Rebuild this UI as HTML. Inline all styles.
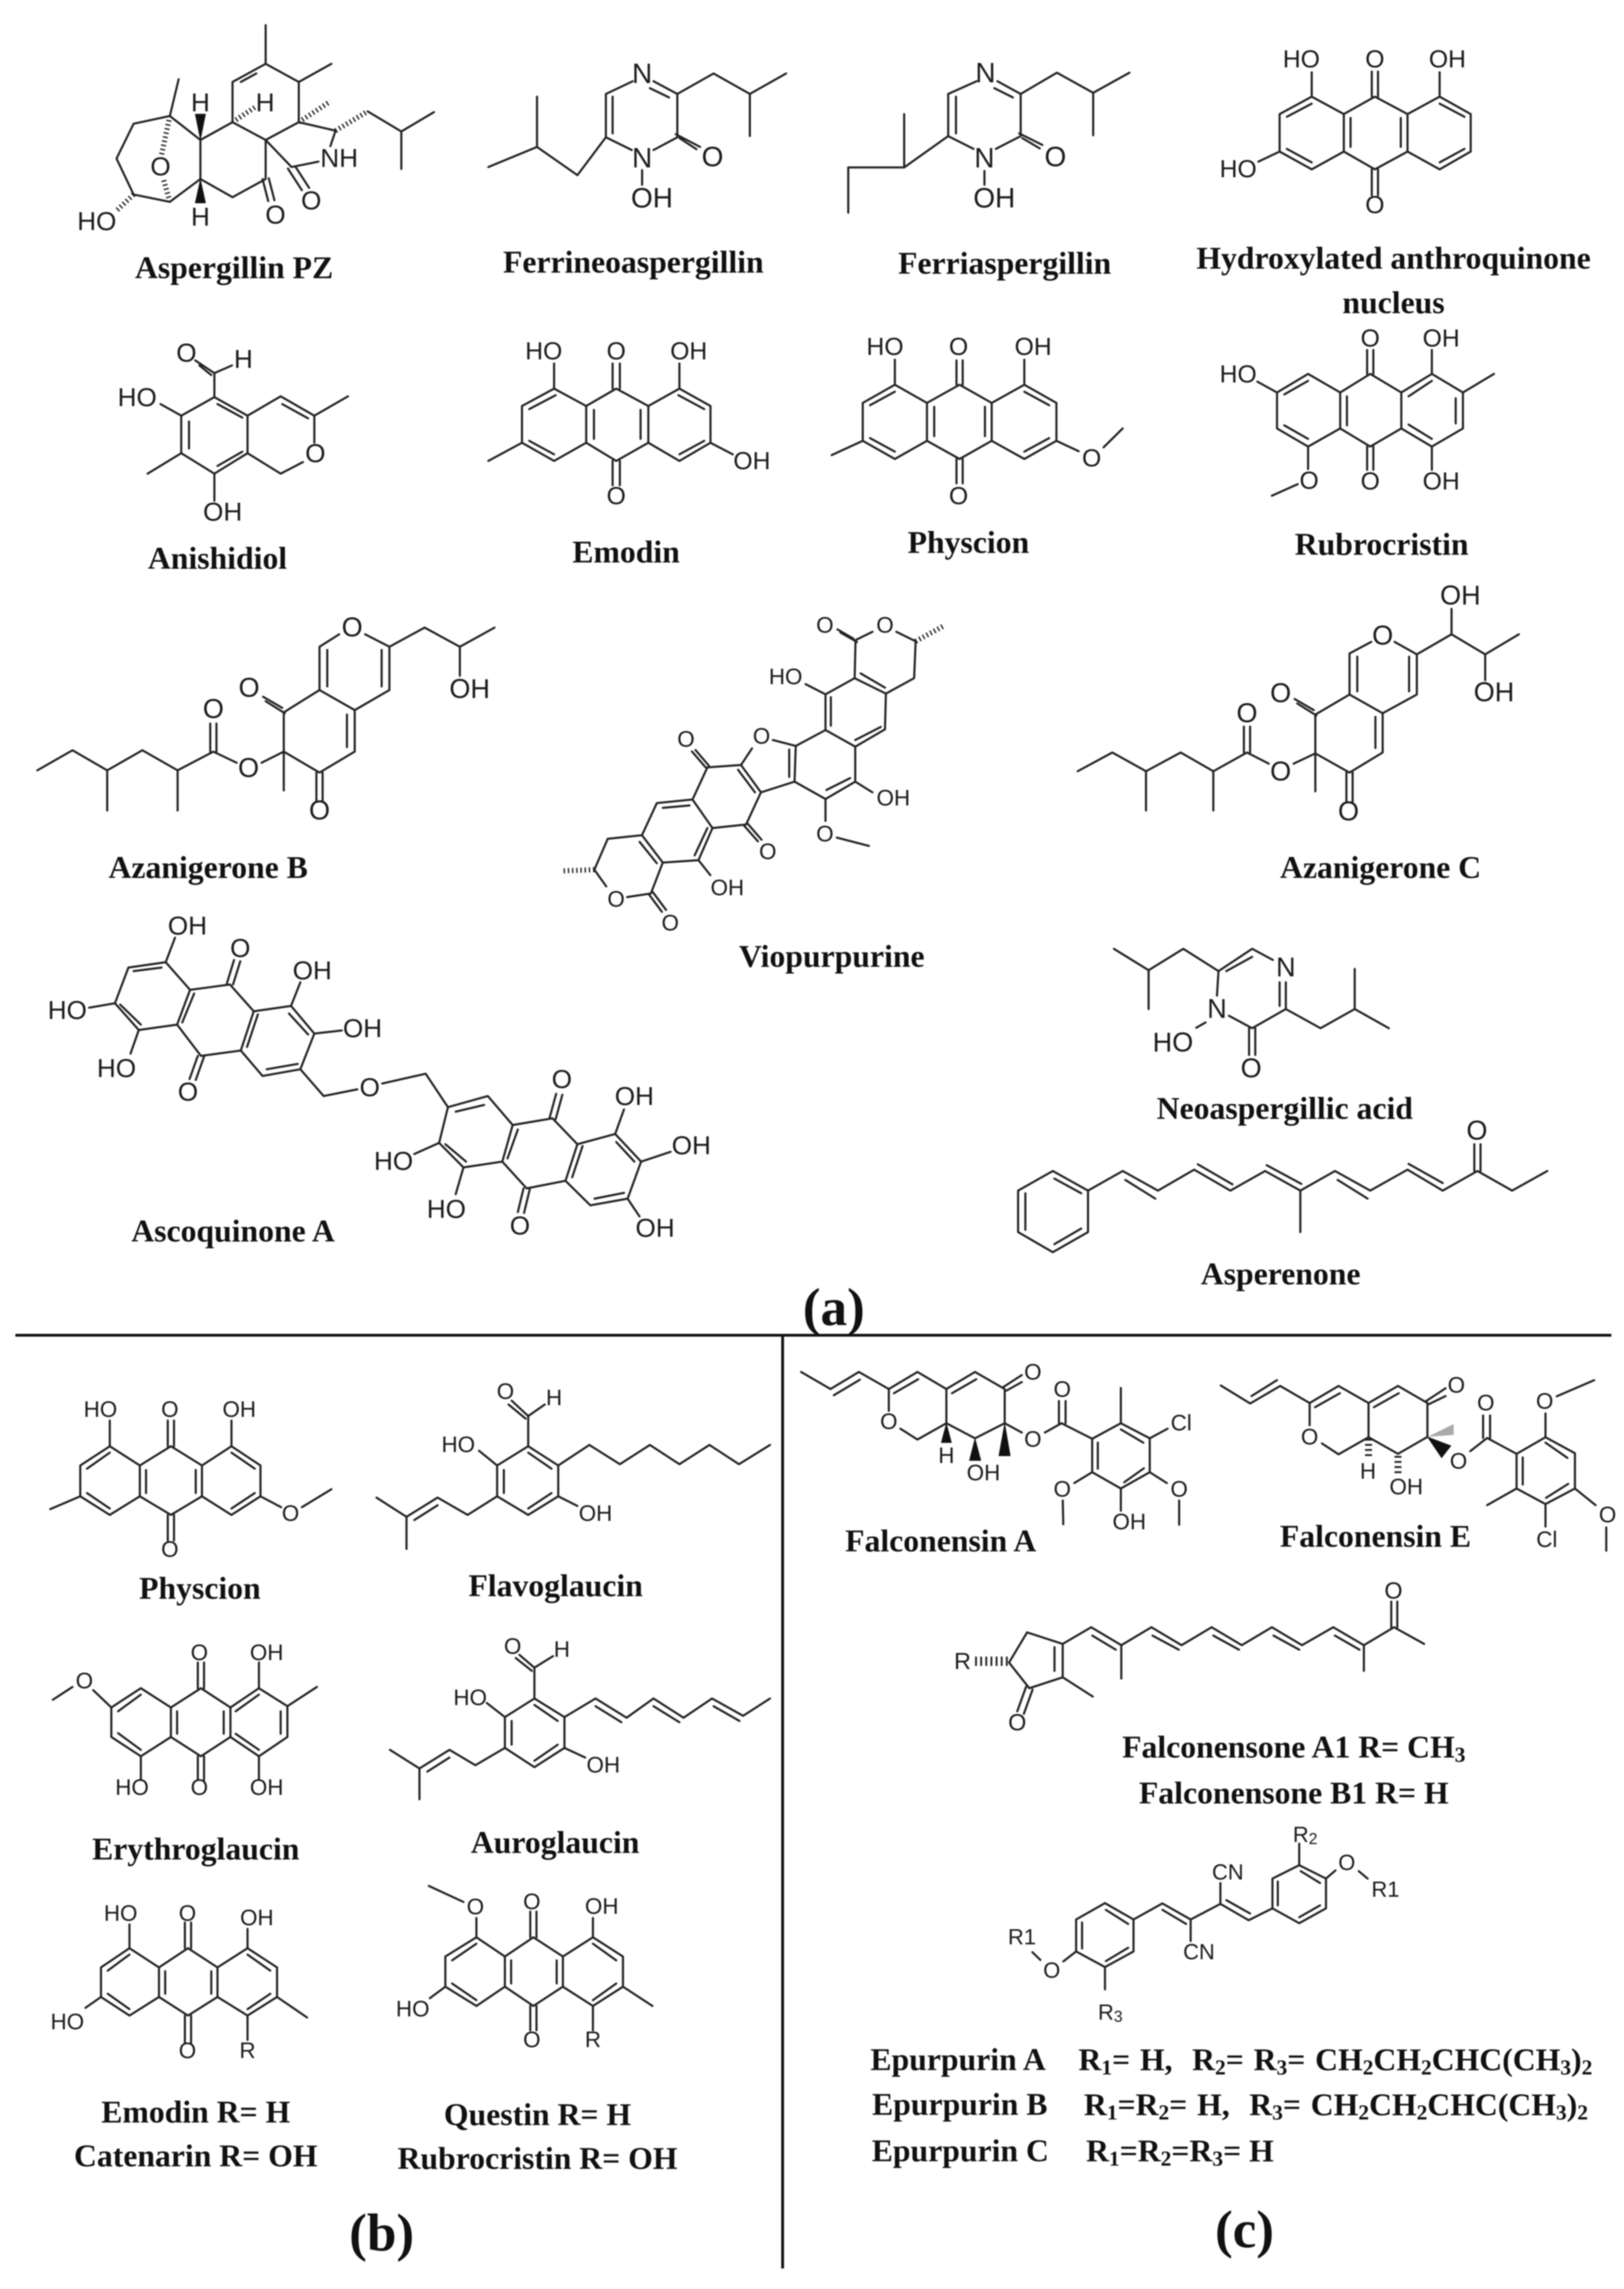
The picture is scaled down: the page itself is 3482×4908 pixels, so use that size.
<!DOCTYPE html>
<html><head><meta charset="utf-8"><style>
html,body{margin:0;padding:0;background:#fff}
svg{display:block;filter:blur(1.3px)}
text{font-family:"Liberation Sans",sans-serif;fill:#1c1c1c;text-anchor:middle;dominant-baseline:central;transform-box:fill-box;transform-origin:center}
.c{font-family:"Liberation Serif",serif;font-weight:bold;font-size:68px;fill:#111}
.L{font-family:"Liberation Serif",serif;font-weight:bold;font-size:114px;fill:#111}
path{fill:none;stroke:#222;stroke-width:4.5px;vector-effect:non-scaling-stroke;stroke-linecap:round;stroke-linejoin:round}
path.h{stroke-width:11px;stroke-dasharray:3 6;stroke-linecap:butt}
path.w{fill:#111;stroke:#111;stroke-width:1px}
.A text{transform:scale(.9006,1.2061)}
.C text{transform:scale(.9006,1.0454)}
.E text{transform:scale(.9006,.7266)}
.F text{transform:scale(.8517,.7266)}
.G text{transform:scale(1.568,1.96)}
.H text{transform:scale(1.568,3.136)}
.I text{transform:scale(1.823,3)}
.J text{transform:scale(1.742,3)}
</style></head><body>
<svg xmlns="http://www.w3.org/2000/svg" width="3482" height="4908" viewBox="0 0 3482 4908">
<rect width="3482" height="4908" fill="#fff"/>

<!-- crop 1 -->
<g class="A" transform="translate(0 0) scale(1.1103 .8291)">
<path d="M513 65L513 165M513 165L449 212L449 316M495 190L465 212M513 165L577 212L577 316M577 212L640 165M449 316L513 362L577 316M449 316L387 362L387 463L449 510L513 463L513 362M387 362L328 300L258 320L225 410L258 503L328 522L387 463M328 300L345 205M577 316L648 338L638 378M513 362L563 432L615 418M556 436L583 492M570 430L597 486M507 463L518 520M519 461L530 518M710 288L775 340L838 290M775 340L775 437"/>
<path class="h" d="M258 503L225 545M328 300L312 400M328 522L316 465M449 316L495 275M577 316L638 262M648 338L710 288"/>
<path class="w" d="M387 362L377 295L397 295ZM387 463L377 525L397 525Z"/>
<g font-size="56"><text x="187" y="572">HO</text><text x="310" y="430">O</text><text x="387" y="265">H</text><text x="387" y="560">H</text><text x="512" y="265">H</text><text x="655" y="408">NH</text><text x="601" y="518">O</text><text x="532" y="555">O</text></g>
<text class="c" x="452" y="692">Aspergillin PZ</text>

<path d="M1222 210L1170 243L1170 355L1220 388M1183 250L1183 345M1262 388L1308 355L1308 243L1262 210M1255 228L1292 252M1305 347L1352 380M1312 357L1345 386M1240 440L1240 478M1308 243L1378 190L1448 243L1518 190M1448 243L1448 352M1170 355L1115 453L1037 380L943 432M1037 380L1037 250"/>
<g font-size="60"><text x="1240" y="190">N</text><text x="1240" y="408">N</text><text x="1376" y="405">O</text><text x="1259" y="512">OH</text></g>
<text class="c" x="1223" y="677">Ferrineoaspergillin</text>

<path d="M414 1027L478 1075L478 1172L414 1225L350 1172L350 1075ZM420 1045L468 1080M365 1090L365 1160M420 1205L468 1168M478 1075L542 1025L607 1075L607 1145M545 1045L595 1082M585 1195L542 1225L478 1172M607 1075L672 1025M414 1027L414 965L377 932M408 970L385 945M414 965L448 945M310 1045L350 1075M350 1172L285 1225M414 1225L414 1295"/>
<g font-size="56"><text x="265" y="1027">HO</text><text x="360" y="912">O</text><text x="470" y="928">H</text><text x="609" y="1172">O</text><text x="430" y="1323">OH</text></g>
<text class="c" x="420" y="1443">Anishidiol</text>

<path d="M1070 1005L1132 1050L1132 1145L1070 1192L1008 1145L1008 1050ZM1132 1050L1190 1005L1252 1050L1252 1145L1190 1192L1132 1145M1252 1050L1312 1005L1372 1050L1372 1145L1312 1192L1252 1145M1073 1022L1022 1058M1022 1140L1070 1175M1147 1060L1147 1135M1237 1060L1237 1135M1310 1022L1360 1058M1312 1175L1360 1140M1183 1005L1183 940M1197 1005L1197 940M1183 1192L1183 1255M1197 1192L1197 1255M1070 1005L1070 940M1312 1005L1312 940M1008 1145L943 1192M1372 1145L1415 1175"/>
<g font-size="53"><text x="1050" y="908">HO</text><text x="1190" y="908">O</text><text x="1330" y="908">OH</text><text x="1190" y="1283">O</text><text x="1452" y="1192">OH</text></g>
<text class="c" x="1209" y="1427">Emodin</text>
</g>

<!-- crop 2 -->
<g class="A" transform="translate(1741 0) scale(1.1103 .8291)">
<path d="M318 210L263 243L263 352L312 385M278 250L278 345M355 385L403 352L403 243L358 210M352 228L388 252M400 345L445 375M406 357L440 384M333 442L333 478M403 243L473 188L543 240L613 188M543 240L543 350M263 352L178 433L70 433L70 550M178 433L178 295"/>
<g font-size="60"><text x="335" y="188">N</text><text x="333" y="408">N</text><text x="470" y="405">O</text><text x="352" y="512">OH</text></g>
<text class="c" x="372" y="680">Ferriaspergillin</text>

<path d="M965 250L1027 295L1027 392L965 438L903 392L903 295ZM1027 295L1087 250L1150 295L1150 392L1087 438L1027 392M1150 295L1212 250L1272 295L1272 392L1212 438L1150 392M965 268L917 302M917 385L965 420M1040 305L1040 380M1137 305L1137 380M1212 268L1260 302M1260 385L1212 420M1081 250L1081 185M1093 250L1093 185M1081 438L1081 505M1093 438L1093 505M965 250L965 187M1212 250L1212 187M903 392L862 418"/>
<g font-size="53"><text x="945" y="153">HO</text><text x="1087" y="153">O</text><text x="1227" y="153">OH</text><text x="823" y="437">HO</text><text x="1087" y="530">O</text></g>
<text class="c" x="1123" y="667">Hydroxylated anthroquinone</text>
<text class="c" x="1123" y="782">nucleus</text>

<path d="M160 995L222 1042L222 1140L160 1187L98 1140L98 1042ZM222 1042L285 995L347 1042L347 1140L285 1187L222 1140M347 1042L410 995L472 1042L472 1140L410 1187L347 1140M160 1013L112 1048M112 1133L160 1168M236 1052L236 1128M334 1052L334 1128M410 1013L458 1048M410 1168L458 1133M279 995L279 932M291 995L291 932M279 1187L279 1250M291 1187L291 1250M160 995L160 930M410 995L410 930M98 1140L38 1177M472 1140L515 1167M563 1157L600 1108"/>
<g font-size="53"><text x="141" y="897">HO</text><text x="283" y="897">O</text><text x="427" y="897">OH</text><text x="283" y="1283">O</text><text x="540" y="1185">O</text></g>
<text class="c" x="302" y="1402">Physcion</text>

<path d="M958 967L1020 1015L1020 1108L958 1155L898 1108L898 1015ZM1020 1015L1078 967L1138 1015L1138 1108L1078 1155L1020 1108M1138 1015L1197 967L1257 1015L1257 1108L1197 1155L1138 1108M958 985L912 1020M912 1100L958 1135M1033 1025L1033 1100M1152 1025L1197 985M1152 1098L1197 1135M1243 1030L1243 1095M1072 967L1072 905M1084 967L1084 905M1072 1155L1072 1215M1084 1155L1084 1215M1197 967L1197 905M1197 1155L1197 1215M898 1015L860 987M1257 1015L1317 967M958 1155L958 1213M938 1252L888 1282"/>
<g font-size="53"><text x="1078" y="875">O</text><text x="1215" y="875">OH</text><text x="823" y="968">HO</text><text x="960" y="1243">O</text><text x="1078" y="1245">O</text><text x="1215" y="1245">OH</text></g>
<text class="c" x="1100" y="1407">Rubrocristin</text>
</g>

<!-- crop 3 -->
<g class="C" transform="translate(0 1250) scale(1.1103 .9566)">
<path d="M655 115L617 143L617 240L548 290L548 378L617 425L685 378L685 285L617 240M685 285L752 240L752 143L705 115M632 150L632 232M737 150L737 232M670 295L670 368M752 143L820 100L888 143L955 100M888 143L888 208M545 280L508 255M550 292L513 265M611 425L611 490M623 425L623 490M548 378L548 465M548 378L505 403M457 403L412 378M406 378L406 315M418 378L418 315M412 378L343 420L275 375L207 420L140 375L72 420M343 420L343 510M207 420L207 510"/>
<g font-size="58"><text x="680" y="100">O</text><text x="907" y="238">OH</text><text x="481" y="235">O</text><text x="412" y="283">O</text><text x="480" y="415">O</text><text x="617" y="510">O</text></g>
<text class="c" x="402" y="637">Azanigerone B</text>

<path d="M320 850L248 862L222 942L268 1002L342 990L367 912ZM367 912L444 900L490 960L465 1048L388 1060L342 990M490 960L562 948L607 1010L580 1090L507 1105L465 1048M312 862L258 870M232 945L272 990M375 920L352 985M498 967L477 1040M558 965L595 1012M575 1078L515 1090M438 898L452 845M450 900L464 848M382 1060L366 1112M394 1062L378 1114M320 850L338 795M222 942L172 952M268 1002L252 1055M562 948L580 895M607 1010L660 1003M580 1090L625 1150L690 1135M738 1122L822 1100L865 1175"/>
<path d="M865 1175L942 1150L990 1215L970 1297L895 1310L848 1255ZM990 1215L1067 1200L1115 1258L1092 1340L1017 1357L970 1297M1115 1258L1188 1235L1238 1297L1212 1380L1140 1395L1092 1340M880 1185L935 1170M860 1258L900 1297M1000 1225L980 1290M1125 1262L1105 1332M1190 1253L1225 1297M1205 1367L1148 1380M1061 1200L1074 1145M1073 1202L1086 1147M1011 1357L1000 1410M1023 1359L1012 1412M1188 1235L1205 1180M1238 1297L1295 1275M1212 1380L1235 1420M848 1255L800 1280M895 1310L880 1370"/>
<g font-size="56"><text x="362" y="768">OH</text><text x="464" y="818">O</text><text x="603" y="868">OH</text><text x="130" y="957">HO</text><text x="700" y="998">OH</text><text x="225" y="1087">HO</text><text x="363" y="1140">O</text><text x="714" y="1130">O</text><text x="1085" y="1112">O</text><text x="1225" y="1150">OH</text><text x="1335" y="1260">OH</text><text x="760" y="1295">HO</text><text x="862" y="1403">HO</text><text x="1004" y="1440">O</text><text x="1265" y="1445">OH</text></g>
<text class="c" x="450" y="1452">Ascoquinone A</text>
</g>

<!-- crop 4 -->
<g class="C" transform="translate(1741 1250) scale(1.1103 .9566)">
<path d="M1080 132L1038 158L1038 250L972 295L972 382L1038 425L1102 380L1102 292L1038 250M1102 292L1168 250L1168 160L1125 132M1053 165L1053 243M1153 165L1153 243M1088 300L1088 370M1168 160L1235 115L1300 160L1365 115M1235 115L1235 58M1300 160L1300 218M969 285L932 260M974 297L937 270M1032 425L1032 490M1044 425L1044 490M972 382L972 467M972 382L930 405M882 405L840 380M834 380L834 322M846 380L846 322M840 380L775 422L712 380L645 422L580 380L513 422M775 422L775 510M645 422L645 510"/>
<g font-size="58"><text x="1252" y="28">OH</text><text x="1102" y="118">O</text><text x="1317" y="245">OH</text><text x="905" y="247">O</text><text x="840" y="292">O</text><text x="905" y="423">O</text><text x="1036" y="512">O</text></g>
<text class="c" x="1098" y="637">Azanigerone C</text>

<path d="M782 925L785 870L850 820L890 845M800 870L850 838M915 895L915 955L850 998L805 970M903 895L903 948M785 870L717 820L650 868L583 820M650 868L650 955M915 955L982 998L1048 955L1114 998M1048 955L1048 865M844 998L844 1058M856 998L856 1058M760 985L742 997"/>
<g font-size="58"><text x="915" y="862">N</text><text x="782" y="955">N</text><text x="697" y="1030">HO</text><text x="848" y="1088">O</text></g>
<text class="c" x="913" y="1177">Neoaspergillic acid</text>

<path d="M465 1318L533 1362L533 1455L465 1500L398 1455L398 1362ZM412 1368L412 1450M468 1335L520 1368M468 1482L520 1447M533 1362L600 1318L668 1362L738 1315L808 1362L875 1318L943 1362L1010 1318L1078 1362L1150 1315L1218 1362L1285 1318L1352 1362L1420 1318M605 1338L663 1380M745 1303L812 1348M878 1305L945 1347M1015 1338L1073 1380M1152 1302L1218 1345M943 1362L943 1455M1279 1318L1279 1258M1291 1318L1291 1258"/>
<text font-size="58" x="1284" y="1228">O</text>
<text class="c" x="905" y="1548">Asperenone</text>
</g>

<!-- Viopurpurine -->
<g class="G" transform="translate(1150 1250) scale(.6378 .5102)">
<path d="M1073 240L1130 205M1210 205L1275 245L1270 400L1175 465L1070 400L1073 240M1066 234L1012 195M1078 248L1022 208M1090 380L1172 440M972 468L1070 400M1175 465L1172 615L1072 688L972 618L972 468M990 480L990 600M1158 605L1072 660M905 425L972 468M1072 688L1072 835L972 908L868 835L872 685L972 618M975 870L1055 820M850 700L850 815M872 685L795 660M725 695L688 765L755 880L868 835M678 785L735 880M1072 835L1130 880M972 908L972 1000M1010 1070L1118 1105M688 765L575 775L525 910L592 1030L705 1015L755 880M569 775L523 708M580 768L535 702M697 1018L745 1086M710 1011L757 1079M525 910L405 925L355 1060L425 1175L545 1165L592 1030M425 945L515 935M532 1145L575 1030M347 1088L405 1178M355 1060L240 1075L195 1205L235 1275M305 1320L385 1305L425 1175M378 1308L422 1382M392 1300L436 1374M545 1165L585 1228"/>
<path class="h" d="M1275 245L1370 180M195 1205L88 1210"/>
<g font-size="48"><text x="970" y="178">O</text><text x="1172" y="178">O</text><text x="838" y="395">HO</text><text x="757" y="645">O</text><text x="503" y="658">O</text><text x="1200" y="905">OH</text><text x="970" y="1055">O</text><text x="778" y="1130">O</text><text x="642" y="1282">OH</text><text x="268" y="1330">O</text><text x="450" y="1430">O</text></g>
<text class="c" x="993" y="1568">Viopurpurine</text>
</g>

<!-- dividers -->
<path d="M33 2863L3455 2863M1678 2863L1678 4864" style="stroke:#111;stroke-width:6px;stroke-linecap:butt"/>

<!-- crop 5 -->
<g class="E" transform="translate(0 2750) scale(1.1103 1.3763)">
<path d="M212 255L270 285L270 333L212 362L155 333L155 285ZM270 285L330 255L390 285L390 333L330 362L270 333M390 285L447 255L503 285L503 333L447 362L390 333M212 265L168 290M168 328L212 352M282 292L282 328M378 292L378 328M447 265L492 290M447 352L492 328M324 255L324 215M336 255L336 215M324 362L324 402M336 362L336 402M212 255L212 215M447 255L447 215M155 333L97 353M503 333L543 350M583 350L640 322"/>
<g font-size="48"><text x="194" y="198">HO</text><text x="328" y="198">O</text><text x="462" y="198">OH</text><text x="561" y="360">O</text><text x="328" y="416">O</text></g>
<text class="c" x="386" y="476">Physcion</text>

<path d="M1020 255L1078 285L1078 333L1020 362L960 333L960 285ZM1020 265L1065 290M973 292L973 328M1020 352L1065 328M1020 255L1020 208L988 184M1015 212L982 190M1020 208L1052 190M925 262L960 285M1078 333L1115 348M1078 285L1138 253L1197 283L1255 253L1312 283L1370 253L1427 283L1487 253M960 333L903 362L845 335L785 365L727 335M785 365L785 415M800 370L845 347"/>
<g font-size="48"><text x="976" y="170">O</text><text x="1070" y="180">H</text><text x="885" y="253">HO</text><text x="1150" y="360">OH</text></g>
<text class="c" x="1073" y="472">Flavoglaucin</text>

<path d="M272 632L330 662L330 708L272 738L215 708L215 662ZM330 662L388 632L445 662L445 708L388 738L330 708M445 662L500 632L555 660L555 708L500 738L445 708M272 642L228 668M228 702L272 728M342 668L342 703M432 668L432 703M500 642L455 668M500 728L455 703M542 668L542 703M382 632L382 592M394 632L394 592M382 738L382 775M394 738L394 775M500 632L500 592M500 738L500 775M272 738L272 775M555 660L612 630M215 662L180 635M140 630L102 650"/>
<g font-size="48"><text x="163" y="621">O</text><text x="385" y="577">O</text><text x="515" y="577">OH</text><text x="255" y="787">HO</text><text x="385" y="787">O</text><text x="515" y="787">OH</text></g>
<text class="c" x="378" y="882">Erythroglaucin</text>

<path d="M1032 648L1090 677L1090 725L1032 755L975 725L975 677ZM1032 658L1077 683M988 683L988 720M1032 745L1077 720M1032 648L1032 600L1003 580M1027 605L996 585M1032 600L1068 582M940 655L975 677M1090 725L1130 740M1090 677L1150 648L1210 678L1262 648L1320 678L1375 648L1435 675L1487 648M1150 660L1200 685M1262 660L1312 685M1378 660L1428 683M975 725L918 752L868 728L810 757L753 728M810 757L810 805M825 762L868 740"/>
<g font-size="48"><text x="990" y="567">O</text><text x="1085" y="572">H</text><text x="908" y="647">HO</text><text x="1165" y="752">OH</text></g>
<text class="c" x="1072" y="872">Auroglaucin</text>

<path d="M250 1037L307 1067L307 1113L250 1142L195 1113L195 1067ZM307 1067L363 1037L420 1067L420 1113L363 1142L307 1113M420 1067L478 1037L535 1067L535 1113L478 1142L420 1113M250 1047L208 1072M208 1108L250 1132M319 1073L319 1108M408 1073L408 1108M478 1047L522 1072M478 1132L522 1108M357 1037L357 997M369 1037L369 997M357 1142L357 1185M369 1142L369 1185M250 1037L250 1000M478 1037L478 1007M195 1113L165 1130M478 1142L478 1180M535 1113L593 1145"/>
<g font-size="48"><text x="233" y="983">HO</text><text x="362" y="983">O</text><text x="496" y="990">OH</text><text x="130" y="1152">HO</text><text x="362" y="1197">O</text><text x="478" y="1197">R</text></g>
<text class="c" x="378" y="1292">Emodin R= H</text>
<text class="c" x="378" y="1360">Catenarin R= OH</text>

<path d="M920 1020L975 1050L975 1097L920 1127L860 1097L860 1050ZM975 1050L1030 1020L1087 1050L1087 1097L1030 1127L975 1097M1087 1050L1145 1020L1203 1050L1203 1097L1145 1127L1087 1097M920 1030L873 1056M873 1092L920 1118M987 1056L987 1092M1075 1056L1075 1092M1145 1030L1190 1056M1145 1118L1190 1092M1024 1020L1024 980M1036 1020L1036 980M1024 1127L1024 1165M1036 1127L1036 1165M920 1020L920 990M895 965L828 940M1145 1020L1145 990M860 1097L830 1115M1145 1127L1145 1165M1203 1097L1260 1127"/>
<g font-size="48"><text x="918" y="973">O</text><text x="1027" y="965">O</text><text x="1162" y="972">OH</text><text x="797" y="1132">HO</text><text x="1027" y="1180">O</text><text x="1145" y="1180">R</text></g>
<text class="c" x="1038" y="1296">Questin R= H</text>
<text class="c" x="1038" y="1364">Rubrocristin R= OH</text>
<text class="L" x="737" y="1480">(b)</text>
</g>

<!-- Falconensin A -->
<g class="I" transform="translate(1700 2880) scale(.5485 .3333)">
<path d="M32 185L147 295L258 185L375 295L375 435M160 335L262 235M375 295L487 185L600 295L600 515L487 620L420 550M395 322L490 232M600 295L712 185L828 295L828 515L712 612L600 515M622 322L717 232M820 285L895 205M835 305L895 250M828 515L895 575M985 575L1050 515M1040 515L1040 372M1066 515L1066 372M1050 515L1170 615L1282 515L1395 612L1395 830L1282 935L1170 830L1170 615M1282 555L1370 640M1192 640L1192 808M1295 895L1372 805M1282 515L1282 288M1395 612L1465 550M1395 830L1462 900M1510 1012L1510 1168M1170 830L1100 900M1055 1012L1057 1165M1282 935L1282 1078"/>
<path class="w" d="M600 515L580 640L620 640ZM712 612L690 755L735 755ZM828 515L805 725L850 725Z"/>
<g font-size="48"><text x="375" y="505">O</text><text x="600" y="725">H</text><text x="745" y="835">OH</text><text x="938" y="188">O</text><text x="938" y="620">O</text><text x="1053" y="298">O</text><text x="1518" y="515">Cl</text><text x="1053" y="940">O</text><text x="1510" y="940">O</text><text x="1315" y="1150">OH</text></g>
<text class="c" x="578" y="1270">Falconensin A</text>
</g>

<!-- Falconensin E -->
<g class="J" transform="translate(2560 2880) scale(.574 .3333)">
<path d="M100 272L210 388L322 275L432 385L432 528M215 340L310 238M432 385L540 275L652 385L652 605L540 715L478 645M452 412L545 322M652 385L762 275L872 385L872 603L762 712L652 605M672 412L765 322M865 375L940 290M878 392L940 340M1032 695L1095 610M1080 610L1080 465M1106 610L1106 465M1095 610L1205 712L1313 605L1423 708L1423 935L1313 1035L1205 935L1205 712M1313 640L1395 738M1228 735L1228 910M1315 995L1398 905M1313 605L1313 452M1355 342L1495 238M1205 935L1095 1042M1423 935L1500 1042M1540 1185L1540 1335M1313 1035L1313 1180"/>
<path class="h" style="stroke-width:15px;stroke-dasharray:4 7" d="M652 615L652 735M762 725L762 845"/>
<path class="w" d="M872 603L960 660L925 738Z"/>
<path d="M872 603L970 520L970 590Z" style="fill:#aaa;stroke:none"/>
<g font-size="48"><text x="432" y="605">O</text><text x="650" y="825">H</text><text x="793" y="925">OH</text><text x="980" y="272">O</text><text x="988" y="760">O</text><text x="1090" y="385">O</text><text x="1310" y="375">O</text><text x="1545" y="1105">O</text><text x="1318" y="1265">Cl</text></g>
<text class="c" x="678" y="1240">Falconensin E</text>
</g>

<!-- crop 6 -->
<g class="F" transform="translate(1641 2750) scale(1.1741 1.3763)">
<text class="L" x="125" y="38">(a)</text>

<path d="M445 592L478 545L543 563L543 615L482 632L445 592M528 568L528 605M476 630L460 668M488 634L472 672M543 615L598 645M543 563L595 537L650 565L705 537L760 565L815 537L870 565L925 537L980 565L1037 537L1093 565L1148 537L1203 563M597 550L640 572M707 550L755 572M818 550L865 572M928 550L975 572M1040 550L1085 572M650 565L650 617M1093 565L1093 605M1143 537L1143 497M1154 537L1154 497"/>
<path class="h" style="stroke-width:20px;stroke-dasharray:4 7" d="M383 590L445 590"/>
<g font-size="50"><text x="360" y="590">R</text><text x="460" y="685">O</text><text x="1147" y="480">O</text></g>
<text class="c" x="965" y="723">Falconensone A1&#160;R= CH<tspan font-size="46" dy="16">3</tspan></text>
<text class="c" x="965" y="795">Falconensone B1 R= H</text>

<text class="c" x="352" y="1210">Epurpurin A</text>
<text class="c" x="1041" y="1210" style="word-spacing:4px">R<tspan font-size="46" dy="16">1</tspan><tspan dy="-16">= H,&#160; R</tspan><tspan font-size="46" dy="16">2</tspan><tspan dy="-16">= R</tspan><tspan font-size="46" dy="16">3</tspan><tspan dy="-16">= CH</tspan><tspan font-size="46" dy="16">2</tspan><tspan dy="-16">CH</tspan><tspan font-size="46" dy="16">2</tspan><tspan dy="-16">CHC(CH</tspan><tspan font-size="46" dy="16">3</tspan><tspan dy="-16">)</tspan><tspan font-size="46" dy="16">2</tspan></text>
<text class="c" x="355" y="1280">Epurpurin B</text>
<text class="c" x="1042" y="1280" style="word-spacing:4px">R<tspan font-size="46" dy="16">1</tspan><tspan dy="-16">=R</tspan><tspan font-size="46" dy="16">2</tspan><tspan dy="-16">= H,&#160; R</tspan><tspan font-size="46" dy="16">3</tspan><tspan dy="-16">= CH</tspan><tspan font-size="46" dy="16">2</tspan><tspan dy="-16">CH</tspan><tspan font-size="46" dy="16">2</tspan><tspan dy="-16">CHC(CH</tspan><tspan font-size="46" dy="16">3</tspan><tspan dy="-16">)</tspan><tspan font-size="46" dy="16">2</tspan></text>
<text class="c" x="356" y="1352">Epurpurin C</text>
<text class="c" x="757" y="1352">R<tspan font-size="46" dy="16">1</tspan><tspan dy="-16">=R</tspan><tspan font-size="46" dy="16">2</tspan><tspan dy="-16">=R</tspan><tspan font-size="46" dy="16">3</tspan><tspan dy="-16">= H</tspan></text>
<text class="L" x="875" y="1475">(c)</text>
</g>

<!-- Epurpurin structure -->
<g class="H" transform="translate(2100 3800) scale(.6378 .3189)">
<path d="M422 880L518 990L518 1205L422 1310L325 1205L325 990ZM425 925L500 1020M345 1010L345 1185M425 1270L500 1180M518 990L615 882L710 990L810 885L905 995L985 915M615 925L695 1020M830 860L910 950M985 915L985 715L1075 625L1165 715L1165 915L1075 1015ZM1080 665L1145 745M1003 735L1003 895M1145 895L1075 975M710 990L710 1135M810 885L810 745M1075 625L1075 480M1165 715L1197 660M1275 665L1305 715M325 1205L282 1272M205 1262L178 1210M422 1310L422 1460"/>
<g font-size="47"><text x="835" y="670">CN</text><text x="738" y="1205">CN</text><text x="1095" y="420">R<tspan font-size="34" dy="10">2</tspan></text><text x="1235" y="605">O</text><text x="1365" y="785">R1</text><text x="243" y="1330">O</text><text x="143" y="1105">R1</text><text x="440" y="1615">R<tspan font-size="34" dy="10">3</tspan></text></g>
</g>
</svg>
</body></html>
